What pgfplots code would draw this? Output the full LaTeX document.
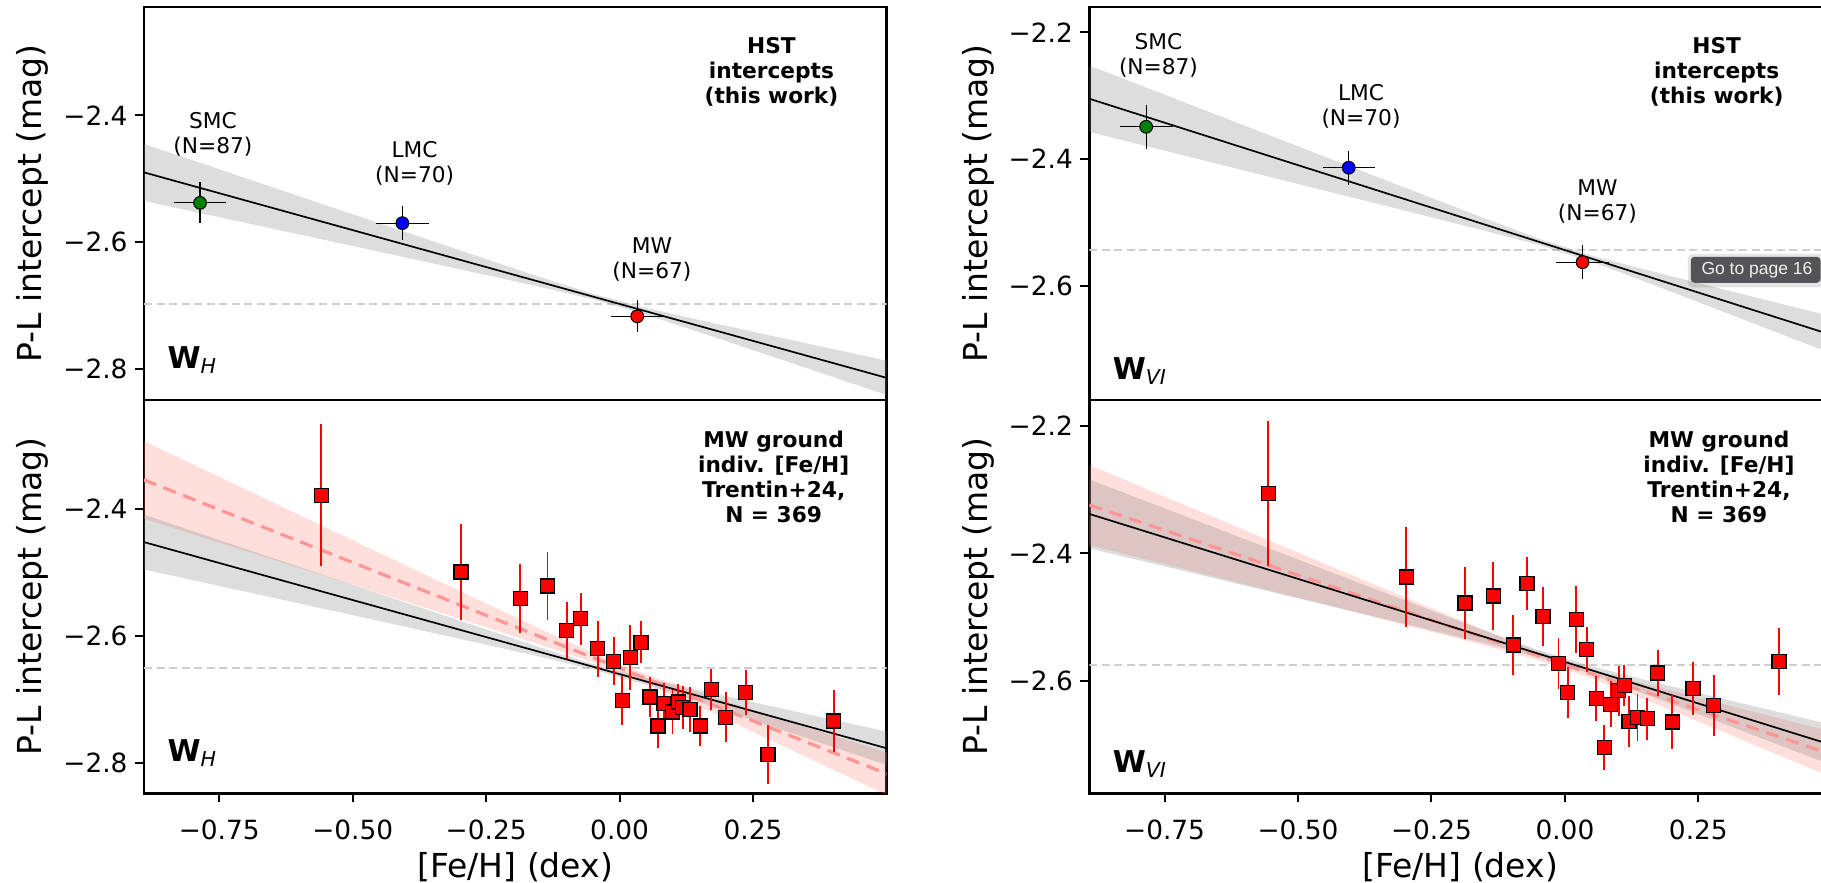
\documentclass[border=0pt]{standalone}
\usepackage{fontspec}
\setmainfont{DejaVu Sans}
\newfontfamily\tipfont{Liberation Sans}
\usepackage{pgfplots}
\usepackage{pgfplotstable}
\pgfplotsset{compat=1.18}

\definecolor{mplgreen}{RGB}{0,128,0}
\definecolor{mplblue}{RGB}{0,0,255}
\definecolor{mplred}{RGB}{255,0,0}
\definecolor{bandgray}{RGB}{128,128,128}
\definecolor{salmonc}{RGB}{250,128,114}
\definecolor{dashred}{RGB}{255,150,150}
\definecolor{hlinec}{RGB}{206,206,206}
\definecolor{tipbg}{RGB}{84,84,88}

\newcommand\annfont{\fontsize{8.68}{10}\selectfont}
\newcommand\tickfont{\fontsize{10.56}{12}\selectfont}
\newcommand\labfont{\fontsize{13.2}{15}\selectfont}
\newcommand\Wlab[1]{{\fontsize{12}{14}\selectfont\bfseries W}\raisebox{-2pt}{\fontsize{8.2}{9}\selectfont\itshape #1}}

\pgfplotstableread{
x y e
-0.559 -2.378 0.112
-0.297 -2.499 0.076
-0.186 -2.541 0.055
-0.135 -2.521 0.054
-0.099 -2.591 0.045
-0.073 -2.573 0.041
-0.041 -2.620 0.044
-0.011 -2.640 0.038
0.005 -2.702 0.039
0.020 -2.634 0.051
0.040 -2.610 0.033
0.057 -2.696 0.031
0.072 -2.742 0.035
0.083 -2.706 0.032
0.099 -2.720 0.035
0.110 -2.704 0.029
0.118 -2.713 0.034
0.132 -2.716 0.035
0.151 -2.742 0.032
0.172 -2.684 0.032
0.199 -2.728 0.039
0.236 -2.689 0.035
0.278 -2.787 0.046
0.401 -2.734 0.049
}\dataBL

\pgfplotstableread{
x y e
-0.556 -2.306 0.114
-0.297 -2.437 0.078
-0.187 -2.478 0.057
-0.134 -2.467 0.053
-0.097 -2.544 0.047
-0.071 -2.447 0.042
-0.041 -2.499 0.046
-0.012 -2.573 0.040
0.005 -2.619 0.040
0.021 -2.504 0.053
0.041 -2.551 0.035
0.059 -2.628 0.036
0.074 -2.705 0.035
0.086 -2.637 0.036
0.101 -2.616 0.039
0.111 -2.608 0.032
0.120 -2.664 0.040
0.136 -2.658 0.037
0.154 -2.660 0.033
0.174 -2.588 0.036
0.201 -2.665 0.043
0.240 -2.612 0.042
0.279 -2.639 0.048
0.401 -2.570 0.052
}\dataBR

\pgfplotsset{
  panel/.style={
    scale only axis, width=297pt, height=157.2pt,
    xmin=-0.891, xmax=0.5,
    axis line style={line width=1.08pt},
    tick style={line width=0.8pt, black},
    major tick length=3.6pt, tick align=outside,
    xtick pos=left, ytick pos=left,
    tick label style={font=\tickfont},
    yticklabel style={anchor=east, inner sep=0pt, xshift=-2.8pt},
    xticklabel style={anchor=north, inner sep=0pt, yshift=-6.8pt},
    clip=true,
  },
  band/.style={fill=bandgray, fill opacity=0.27, draw=none},
  pband/.style={fill=salmonc, fill opacity=0.25, draw=none},
  fitline/.style={black, line width=0.67pt},
  hdash/.style={hlinec, line width=0.85pt, dash pattern=on 3.2pt off 1.8pt},
  rdash/.style={dashred, line width=1.3pt, dash pattern=on 5.3pt off 3.1pt},
  topmark/.style={only marks, mark=*, mark size=2.55pt,
    mark options={fill=#1, draw=black, line width=0.4pt},
    error bars/.cd, x dir=both, x explicit, y dir=both, y explicit,
    error mark=none, error bar style={black, line width=0.5pt}},
  botmark/.style={only marks, mark=square*, mark size=2.8pt,
    mark options={fill=mplred, draw=black, line width=0.5pt},
    error bars/.cd, y dir=both, y explicit,
    error mark=none, error bar style={mplred, line width=0.75pt}},
}

\begin{document}
\begin{tikzpicture}
\useasboundingbox (0,0) rectangle (728.4pt,-353.2pt);
\clip (0,0) rectangle (728.4pt,-353.2pt);

% ---------------- top left ----------------
\begin{axis}[panel, at={(57.6pt,-160pt)}, anchor=south west,
  ymin=-2.849, ymax=-2.229, xtick=\empty,
  ytick={-2.8,-2.6,-2.4}, yticklabels={−2.8,−2.6,−2.4}]
\addplot[hdash] coordinates {(-0.891,-2.6975) (0.5,-2.6975)};
\addplot[band] coordinates {(-0.891,-2.4449) (-0.75,-2.4850) (-0.6,-2.5276) (-0.45,-2.5702) (-0.3,-2.6126) (-0.15,-2.6548) (-0.05,-2.6816) (0.05,-2.7038) (0.15,-2.7229) (0.3,-2.7504) (0.5,-2.7869)
 (0.5,-2.8411) (0.3,-2.7844) (0.15,-2.7421) (0.05,-2.7146) (-0.05,-2.6902) (-0.15,-2.6704) (-0.3,-2.6426) (-0.45,-2.6152) (-0.6,-2.5878) (-0.75,-2.5606) (-0.891,-2.5349)} -- cycle;
\addplot[fitline] coordinates {(-0.891,-2.4899) (0.5,-2.8140)};
\addplot[topmark=mplgreen] coordinates {(-0.786,-2.538) +- (0.049,0.0325)};
\addplot[topmark=mplblue] coordinates {(-0.407,-2.570) +- (0.049,0.027)};
\addplot[topmark=mplred] coordinates {(0.033,-2.717) +- (0.049,0.025)};
\node[align=center, font=\annfont, inner sep=0pt] at (axis cs:-0.762,-2.430) {SMC\\(N=87)};
\node[align=center, font=\annfont, inner sep=0pt] at (axis cs:-0.384,-2.476) {LMC\\(N=70)};
\node[align=center, font=\annfont, inner sep=0pt] at (axis cs:0.0605,-2.627) {MW\\(N=67)};
\node[align=center, font=\annfont\bfseries, inner sep=0pt, anchor=north] at (rel axis cs:0.845,0.9244) {HST\\intercepts\\(this work)};
\node[anchor=base west, inner sep=0pt] at (rel axis cs:0.031,0.0814) {\Wlab{H}};
\end{axis}

% ---------------- bottom left ----------------
\begin{axis}[panel, at={(57.6pt,-317.32pt)}, anchor=south west, height=157.32pt,
  ymin=-2.848, ymax=-2.228,
  ytick={-2.8,-2.6,-2.4}, yticklabels={−2.8,−2.6,−2.4},
  xtick={-0.75,-0.5,-0.25,0,0.25}, xticklabels={−0.75,−0.50,−0.25,0.00,0.25}]
\addplot[hdash] coordinates {(-0.891,-2.6506) (0.5,-2.6506)};
\addplot[pband] coordinates {(-0.891,-2.2927) (-0.75,-2.3491) (-0.6,-2.4091) (-0.45,-2.4690) (-0.3,-2.5288) (-0.15,-2.5882) (-0.05,-2.6267) (0.05,-2.6607) (0.15,-2.6894) (0.3,-2.7301) (0.5,-2.7836)
 (0.5,-2.8506) (0.3,-2.7709) (0.15,-2.7116) (0.05,-2.6737) (-0.05,-2.6413) (-0.15,-2.6132) (-0.3,-2.5726) (-0.45,-2.5326) (-0.6,-2.4927) (-0.75,-2.4527) (-0.891,-2.4153)} -- cycle;
\addplot[band] coordinates {(-0.891,-2.4088) (-0.75,-2.4487) (-0.6,-2.4911) (-0.45,-2.5335) (-0.3,-2.5757) (-0.15,-2.6177) (-0.05,-2.6442) (0.05,-2.6664) (0.15,-2.6856) (0.3,-2.7136) (0.5,-2.7506)
 (0.5,-2.8032) (0.3,-2.7468) (0.15,-2.7046) (0.05,-2.6772) (-0.05,-2.6526) (-0.15,-2.6325) (-0.3,-2.6043) (-0.45,-2.5765) (-0.6,-2.5487) (-0.75,-2.5211) (-0.891,-2.4952)} -- cycle;
\addplot[rdash] coordinates {(-0.891,-2.3540) (0.5,-2.8171)};
\addplot[fitline] coordinates {(-0.891,-2.4520) (0.5,-2.7769)};
\addplot[botmark] table[x=x, y=y, y error=e] {\dataBL};
\node[align=center, font=\annfont\bfseries, inner sep=0pt, anchor=north] at (rel axis cs:0.848,0.9237) {MW ground\\indiv. [Fe/H]\\Trentin+24,\\N = 369};
\node[anchor=base west, inner sep=0pt] at (rel axis cs:0.031,0.0814) {\Wlab{H}};
\end{axis}

% ---------------- top right ----------------
\begin{axis}[panel, at={(435.72pt,-160pt)}, anchor=south west,
  ymin=-2.780, ymax=-2.160, xtick=\empty,
  ytick={-2.6,-2.4,-2.2}, yticklabels={−2.6,−2.4,−2.2}]
\addplot[hdash] coordinates {(-0.891,-2.5435) (0.5,-2.5435)};
\addplot[band] coordinates {(-0.891,-2.2523) (-0.75,-2.2983) (-0.6,-2.3472) (-0.45,-2.3961) (-0.3,-2.4450) (-0.15,-2.4935) (-0.05,-2.5251) (0.05,-2.5520) (0.15,-2.5742) (0.3,-2.6060) (0.5,-2.6481)
 (0.5,-2.7069) (0.3,-2.6418) (0.15,-2.5932) (0.05,-2.5618) (-0.05,-2.5351) (-0.15,-2.5131) (-0.3,-2.4812) (-0.45,-2.4497) (-0.6,-2.4182) (-0.75,-2.3867) (-0.891,-2.3571)} -- cycle;
\addplot[fitline] coordinates {(-0.891,-2.3047) (0.5,-2.6775)};
\addplot[topmark=mplgreen] coordinates {(-0.7845,-2.349) +- (0.0497,0.035)};
\addplot[topmark=mplblue] coordinates {(-0.405,-2.4135) +- (0.049,0.027)};
\addplot[topmark=mplred] coordinates {(0.033,-2.5626) +- (0.049,0.027)};
\node[align=center, font=\annfont, inner sep=0pt] at (axis cs:-0.7614,-2.237) {SMC\\(N=87)};
\node[align=center, font=\annfont, inner sep=0pt] at (axis cs:-0.382,-2.316) {LMC\\(N=70)};
\node[align=center, font=\annfont, inner sep=0pt] at (axis cs:0.0609,-2.467) {MW\\(N=67)};
\node[align=center, font=\annfont\bfseries, inner sep=0pt, anchor=north] at (rel axis cs:0.845,0.9244) {HST\\intercepts\\(this work)};
\node[anchor=base west, inner sep=0pt] at (rel axis cs:0.031,0.053) {\Wlab{VI}};
\end{axis}

% ---------------- bottom right ----------------
\begin{axis}[panel, at={(435.72pt,-317.32pt)}, anchor=south west, height=157.32pt,
  ymin=-2.777, ymax=-2.159,
  ytick={-2.6,-2.4,-2.2}, yticklabels={−2.6,−2.4,−2.2},
  xtick={-0.75,-0.5,-0.25,0,0.25}, xticklabels={−0.75,−0.50,−0.25,0.00,0.25}]
\addplot[hdash] coordinates {(-0.891,-2.5751) (0.5,-2.5751)};
\addplot[pband] coordinates {(-0.891,-2.2611) (-0.75,-2.3107) (-0.6,-2.3635) (-0.45,-2.4162) (-0.3,-2.4688) (-0.15,-2.5208) (-0.05,-2.5541) (0.05,-2.5822) (0.15,-2.6051) (0.3,-2.6375) (0.5,-2.6802)
 (0.5,-2.7518) (0.3,-2.6817) (0.15,-2.6297) (0.05,-2.5962) (-0.05,-2.5679) (-0.15,-2.5448) (-0.3,-2.5124) (-0.45,-2.4804) (-0.6,-2.4485) (-0.75,-2.4167) (-0.891,-2.3869)} -- cycle;
\addplot[band] coordinates {(-0.891,-2.2838) (-0.75,-2.3292) (-0.6,-2.3775) (-0.45,-2.4257) (-0.3,-2.4738) (-0.15,-2.5215) (-0.05,-2.5519) (0.05,-2.5775) (0.15,-2.5988) (0.3,-2.6293) (0.5,-2.6694)
 (0.5,-2.7328) (0.3,-2.6685) (0.15,-2.6208) (0.05,-2.5899) (-0.05,-2.5631) (-0.15,-2.5413) (-0.3,-2.5108) (-0.45,-2.4805) (-0.6,-2.4505) (-0.75,-2.4204) (-0.891,-2.3922)} -- cycle;
\addplot[rdash] coordinates {(-0.891,-2.3240) (0.5,-2.7160)};
\addplot[fitline] coordinates {(-0.891,-2.3380) (0.5,-2.7011)};
\addplot[botmark] table[x=x, y=y, y error=e] {\dataBR};
\node[align=center, font=\annfont\bfseries, inner sep=0pt, anchor=north] at (rel axis cs:0.848,0.9237) {MW ground\\indiv. [Fe/H]\\Trentin+24,\\N = 369};
\node[anchor=base west, inner sep=0pt] at (rel axis cs:0.031,0.053) {\Wlab{VI}};
\end{axis}

% axis labels
\node[rotate=90, anchor=base, inner sep=0pt, font=\labfont] at (16.68pt,-81.4pt) {P-L intercept (mag)};
\node[rotate=90, anchor=base, inner sep=0pt, font=\labfont] at (16.68pt,-238.68pt) {P-L intercept (mag)};
\node[rotate=90, anchor=base, inner sep=0pt, font=\labfont] at (394.8pt,-81.4pt) {P-L intercept (mag)};
\node[rotate=90, anchor=base, inner sep=0pt, font=\labfont] at (394.8pt,-238.68pt) {P-L intercept (mag)};
\node[anchor=base, inner sep=0pt, font=\labfont] at (206.12pt,-350.8pt) {[Fe/H] (dex)};
\node[anchor=base, inner sep=0pt, font=\labfont] at (584.08pt,-350.8pt) {[Fe/H] (dex)};

% viewer tooltip overlay
\fill[black, opacity=0.10, rounded corners=2pt] (675.1pt,-101.5pt) rectangle (730pt,-114.9pt);
\fill[tipbg, rounded corners=1.5pt] (676.3pt,-102.7pt) rectangle (728.2pt,-113.1pt);
\node[anchor=west, inner sep=0pt, text=white!94!black, font=\tipfont\fontsize{7}{8}\selectfont] at (680.4pt,-108.2pt) {Go to page 16};
\end{tikzpicture}
\end{document}
